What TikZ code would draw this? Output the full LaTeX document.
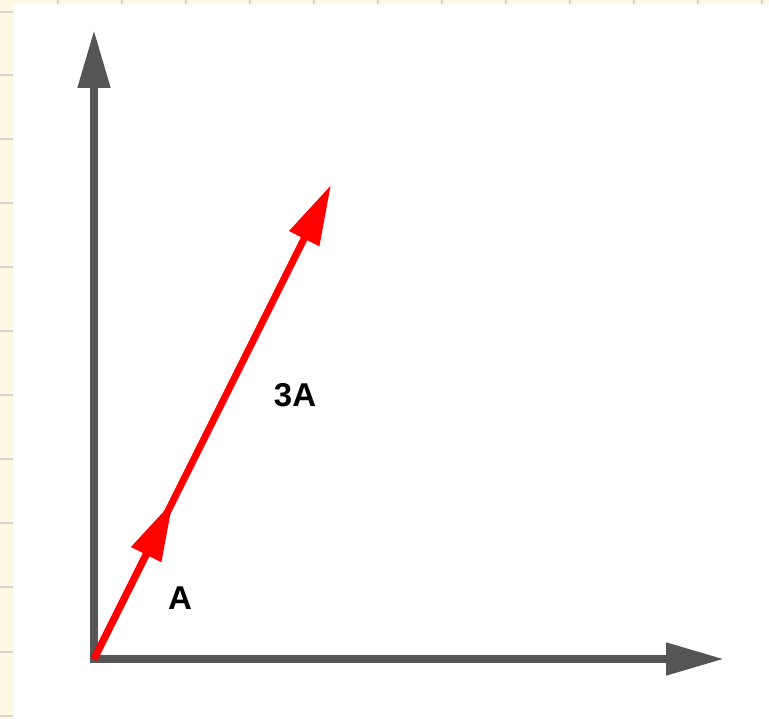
\documentclass[tikz,border=0pt]{standalone}
\usepackage{fontspec}
\setmainfont{Liberation Sans}
\usetikzlibrary{arrows.meta}
\definecolor{cream}{RGB}{255,248,226}
\definecolor{gridc}{RGB}{212,212,206}
\definecolor{axisgray}{RGB}{85,85,85}
\definecolor{vecred}{RGB}{255,0,0}
\tikzset{
  axisline/.style={draw=axisgray, line width=8pt, -{Triangle[length=58pt,width=31pt]}},
  vecline/.style={draw=vecred, line width=7pt, -{Triangle[length=60pt,width=32pt]}},
  vlabel/.style={font=\fontsize{33}{38}\selectfont\bfseries, text=black, inner sep=0pt},
  gridline/.style={draw=gridc, line width=2pt}
}
\begin{document}
\begin{tikzpicture}[x=1pt,y=-1pt]
\useasboundingbox (0,0) rectangle (769,719);
\fill[cream] (0,0) rectangle (769,719);
\foreach \gx in {58,122,186,250,314,378,442,506,570,634,698,762}
  \draw[gridline] (\gx,0) -- (\gx,719);
\foreach \gy in {12,75,139,203,267,331,395,459,523,587,652,716}
  \draw[gridline] (0,\gy) -- (769,\gy);
\fill[white] (13,4) rectangle (769,719);
\coordinate (O) at (94,659);
\coordinate (Ytip) at (94,30);
\coordinate (Xtip) at (724,659);
\coordinate (Atip) at (173,501);
\coordinate (Btip) at (331,185);
\draw[axisline] (94,663) -- (Ytip);
\draw[axisline] (90,659) -- (Xtip);
\draw[vecline] (O) -- (Btip);
\draw[vecline] (O) -- (Atip);
\node[vlabel] (la) at (180,598) {A};
\node[vlabel] (lb) at (295,395) {3A};
\end{tikzpicture}
\end{document}
